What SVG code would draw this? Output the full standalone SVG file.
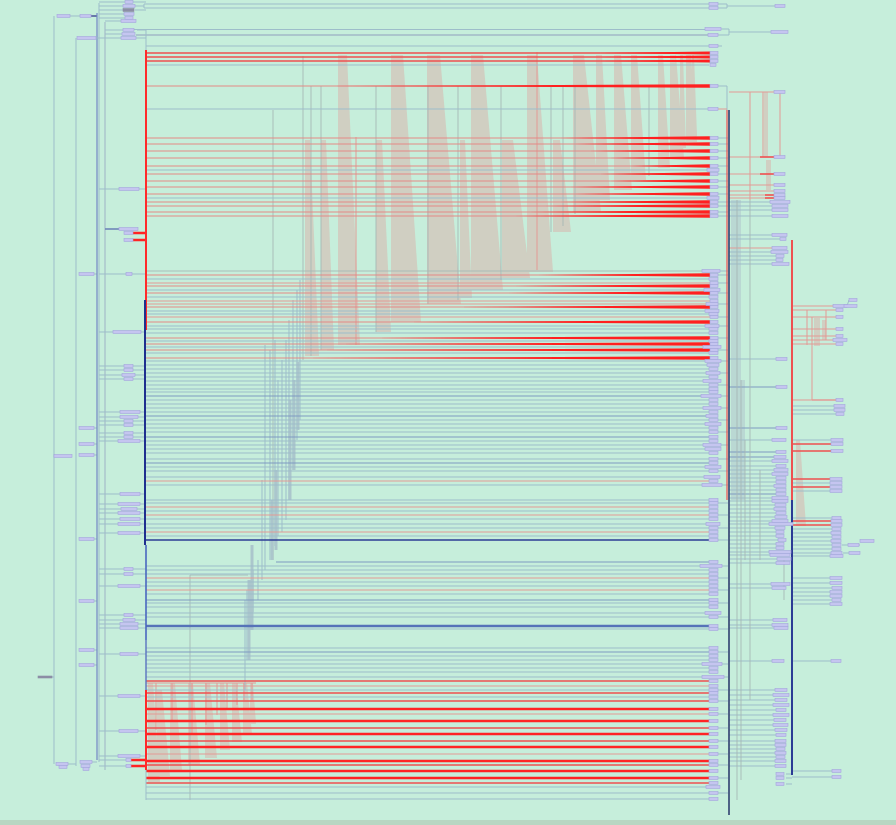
<svg xmlns="http://www.w3.org/2000/svg" width="896" height="825" viewBox="0 0 896 825">
<style>
.n{fill:#c5c5f0;stroke:#a3a6dc;stroke-width:.6}
.nd{fill:#8c8ea6;stroke:#8c8ea6;stroke-width:.6}
.b{stroke:#9dbdca;stroke-width:1;fill:none}
.g{stroke:#a6b8b5;stroke-width:.9;fill:none}
.bd{stroke:#7e99c2;stroke-width:1.2;fill:none}
.nv{stroke:#2b3b95;stroke-width:1.4;fill:none}
.bt{stroke:#5673b8;stroke-width:2.6;fill:none}
.p{stroke:#e39a95;stroke-width:1;fill:none}
.pr{stroke:#e48a86;stroke-width:1.1;fill:none}
.rm{stroke:#ee5050;stroke-width:1.3;fill:none}
.rt{stroke:#ff2424;stroke-width:2.6;fill:none}
.r{fill:#ff2020}
.w{fill:#d0cfc2}
.lb{stroke:#abc6cc;stroke-width:3;fill:none}
.lb2{stroke:#abc6cc;stroke-width:2;fill:none}
.dk{stroke:#2f3f6f;stroke-width:1.6;fill:none}
.lv{stroke:#7385c5;stroke-width:1.2;fill:none}
</style>
<rect x="0" y="0" width="896" height="825" fill="#c6eedb"/>
<rect x="0" y="820" width="896" height="5" fill="#b8d6c2"/>
<g id="connectors">
<g id="wedges">
<polygon class="w" points="305,140 310,140 319,356 305,356"/>
<polygon class="w" points="321,140 326,140 334,350 321,350"/>
<polygon class="w" points="338,55 347,55 360,345 338,345"/>
<polygon class="w" points="376,140 382,140 391,332 376,332"/>
<polygon class="w" points="391,55 403,55 421,322 391,322"/>
<polygon class="w" points="427,55 440,55 461,304 427,304"/>
<polygon class="w" points="460,140 465,140 472,298 460,298"/>
<polygon class="w" points="471,55 483,55 503,290 471,290"/>
<polygon class="w" points="502,140 513,140 530,278 502,278"/>
<polygon class="w" points="527,55 537,55 553,272 527,272"/>
<polygon class="w" points="553,140 560,140 571,232 553,232"/>
<polygon class="w" points="573,55 584,55 601,212 573,212"/>
<polygon class="w" points="596,55 602,55 610,200 596,200"/>
<polygon class="w" points="614,55 621,55 632,190 614,190"/>
<polygon class="w" points="631,55 637,55 646,180 631,180"/>
<polygon class="w" points="658,55 663,55 670,168 658,168"/>
<polygon class="w" points="670,55 676,55 684,158 670,158"/>
<polygon class="w" points="680,55 683,55 686,148 680,148"/>
<polygon class="w" points="686,55 691,55 697,142 686,142"/>
<polygon class="w" points="692,55 694,55 697,136 692,136"/>
<polygon class="w" points="148,683 153,683 160,782 148,782"/>
<polygon class="w" points="157,690 162,690 170,776 157,776"/>
<polygon class="w" points="170,683 175,683 182,770 170,770"/>
<polygon class="w" points="188,683 193,683 200,765 188,765"/>
<polygon class="w" points="205,683 210,683 217,758 205,758"/>
<polygon class="w" points="220,683 224,683 230,750 220,750"/>
<polygon class="w" points="232,683 236,683 242,742 232,742"/>
<polygon class="w" points="243,683 247,683 252,734 243,734"/>
<polygon class="w" points="250,683 253,683 256,724 250,724"/>
<polygon class="w" points="796,440 800,440 806,526 796,526"/>
<rect class="w" x="814" y="318" width="6" height="28"/>
<rect class="w" x="822" y="320" width="4" height="20"/>
<rect class="w" x="764" y="92" width="4" height="65"/>
<rect class="w" x="766" y="160" width="5" height="30"/>
<rect x="731" y="200" width="10" height="180" fill="#b2c9cd" opacity=".6"/>
<rect x="731" y="380" width="14" height="120" fill="#b2c9cd" opacity=".6"/>
</g>
<path class="g" d="M303 56V360M273 110V560M311 86V356M321 86V350M376 86V332M428 86V304M458 86V300M501 86V280M551 86V232M563 86V226M575 86V214M649 86V176M190 575V800M190 575H248"/>
<path class="p" d="M356 137V345M537 52V270M156 683V730M172 683V720M192 683V735M206 683V725M217 683V715M227 683V710M237 683V705M244 683V700M252 683V700M146 683H256"/>
<path class="b" d="M300 280V420M297 290V440M293 300V470M289 320V500M286 340V520M282 360V532M278 380V536M275 340V546M270 350V560M265 345V570M262 480V580M258 560V600M253 570V612M250 580V626M247 590V660M245 600V690"/>
<path class="lb" d="M298 362V430M294 380V470M290 400V500M276 470V550M272 500V560M252 545V630M249 580V660"/>
<path class="b" d="M135 6H144V4H709M144 6V8H709M134 29.5H705M146 46H709M146 65H709M146 109H709M146 170H709M146 198H709M146 279H709M146 290H709M146 297H709M146 311H709M146 314H709M146 326H709M146 329H709M146 333H709M146 341H709M146 347H709M146 353H709M146 361H709M146 365H709M146 369H709M146 373H709M146 377H709M146 381H709M146 385H709M146 389H709M146 392H709M146 400H709M146 404H709M146 408H709M146 412H709M146 420H709M146 424H709M146 428H709M146 432H709M146 441H709M146 445H709M146 449H709M146 453H709M146 459H709M146 467H709M146 471H709M146 477H709M146 485H709M146 500H709M146 503H709M146 511H709M146 519H709M146 524H709M146 528H709M146 536H709M146 566H709M146 570H709M146 574H709M146 582H709M146 586H709M146 594H709M146 603H709M146 607H709M146 613H709M146 617H709M146 629H709M146 648H709M146 656H709M146 660H709M146 664H709M146 668H709M146 672H709M146 677H709M146 690H709M146 697H709M146 787H709M146 793H709M146 799H709"/>
<path class="lb2" d="M136 35H708"/>
<path class="g" d="M146 271H709"/>
<path class="bd" d="M146 396H709M146 416H709M146 437H709M146 463H709M276 562H709M146 600H709M146 652H709"/>
<path class="nv" d="M146 540H709"/>
<path class="bt" d="M146 626H709"/>
<path class="pr" d="M146 86H710M146 138H710M146 144H710M146 151H710M146 158H710M146 166H710M146 174H710M146 181H710M146 187H710M146 194H710M146 202H710M146 206H710M146 212H710M146 216H710M146 275H710M146 286H710M146 293H710M146 307H710M146 322H710M146 338H710M146 344H710M146 350H710M146 358H710"/>
<path class="p" d="M146 283H710M146 301H710M146 304H710M146 317H710M146 481H710M146 507H710M146 515H710M146 532H710M146 578H710M146 590H710M146 686H710M146 714H710M146 754H710"/>
<path class="rm" d="M146 53H710M146 57H710M146 61H710M146 681H710M146 693H710M146 701H710M146 728H710M146 741H710M146 765H710M146 783H710"/>
<path class="rt" d="M146 709H710M146 721H710M146 734H710M146 747H710M146 761H710M146 771H710M146 778H710"/>
<g id="tapers">
<polygon class="r" points="600,53 710,51.4 710,54.6"/>
<polygon class="r" points="600,57 710,55.4 710,58.6"/>
<polygon class="r" points="600,61 710,59.4 710,62.6"/>
<polygon class="r" points="330,86 710,84.3 710,87.7"/>
<polygon class="r" points="560,138 710,136.3 710,139.7"/>
<polygon class="r" points="575,144 710,142.3 710,145.7"/>
<polygon class="r" points="590,151 710,149.3 710,152.7"/>
<polygon class="r" points="610,158 710,156.3 710,159.7"/>
<polygon class="r" points="630,166 710,164.3 710,167.7"/>
<polygon class="r" points="600,174 710,172.3 710,175.7"/>
<polygon class="r" points="610,181 710,179.3 710,182.7"/>
<polygon class="r" points="570,187 710,185.3 710,188.7"/>
<polygon class="r" points="575,194 710,192.3 710,195.7"/>
<polygon class="r" points="560,202 710,200.3 710,203.7"/>
<polygon class="r" points="545,206 710,204.3 710,207.7"/>
<polygon class="r" points="530,212 710,210.3 710,213.7"/>
<polygon class="r" points="515,216 710,214.3 710,217.7"/>
<polygon class="r" points="538,275 710,273.3 710,276.7"/>
<polygon class="r" points="515,286 710,284.3 710,287.7"/>
<polygon class="r" points="500,293 710,291.3 710,294.7"/>
<polygon class="r" points="458,307 710,305.3 710,308.7"/>
<polygon class="r" points="408,322 710,320.3 710,323.7"/>
<polygon class="r" points="377,338 710,336.3 710,339.7"/>
<polygon class="r" points="339,344 710,342.3 710,345.7"/>
<polygon class="r" points="320,350 710,348.3 710,351.7"/>
<polygon class="r" points="305,358 710,356.3 710,359.7"/>
</g>
<path class="b" d="M718 4H727V6H775M718 8H727V6M721 29H729V32H771M718 35H729V32M718 46H722M718 86H727V110M718 138H728M718 144H728M718 151H728M718 158H728M718 166H728M718 174H728M718 181H728M718 187H728M718 194H728M718 202H728M718 206H728M718 212H728M718 216H728M720 271H728M718 275H728M718 283H728M718 293H728M718 304H728M718 317H728M718 326H728M718 338H728M718 350H728M718 361H728M718 373H728M718 385H728M718 396H728M718 408H728M718 420H728M718 432H728M718 445H728M718 459H728M718 471H728M718 485H728M718 503H728M718 515H728M718 528H728M718 540H728M718 566H728M718 578H728M718 590H728M718 603H728M718 617H728M718 629H728M718 652H728M718 664H728M718 677H728M718 690H728M718 701H728M718 714H728M718 728H728M718 741H728M718 754H728M718 765H728M718 778H728M718 793H728"/>
<path class="p" d="M718 109H727M729 92H774M729 157H774M729 174H774M729 185H774M729 191H774M729 195H774M729 198H774M729 248H772M780 92V157M763 92V157M750 92V200"/>
<path class="rm" d="M760 157H774M760 174H774M765 195H774M765 198H774M792 444H831M792 451H831M792 479H830M792 487H830M792 521H831M792 525H831"/>
<path class="b" d="M729 202H770M729 206H772M729 210H772M729 216H772M729 235H772M729 239H780M729 252H771M729 256H776M729 260H776M729 264H772M729 359H776M729 440H772M729 461H772M729 466H776M729 470H774M729 474H772M729 478H776M729 482H776M729 486H774M729 490H776M729 498H772M729 501H772M729 505H775M729 509H774M729 513H776M729 517H775M729 521H772M729 524H769M729 528H775M729 532H776M729 536H776M729 540H778M729 544H776M729 548H776M729 552H769M729 555H770M729 559H777M729 563H776M729 584H771M729 588H772M729 620H773M729 625H772M729 628H774M729 661H772M729 690H775M729 695H773M729 700H775M729 705H773M729 710H776M729 715H773M729 720H774M729 725H773M729 730H775M729 735H776M729 741H775M729 745H775M729 749H776M729 753H775M729 757H776M729 761H775M729 766H775M786 774H792M786 778H792M786 784H792"/>
<path class="bd" d="M729 387H776M729 428H776M729 452H776M729 457H774M729 494H776"/>
<path class="g" d="M750 200V700M737 200V800M741 380V780M745 440V560M760 470V560M784 560V600"/>
<path class="p" d="M792 306H833M792 310H836M792 317H836M792 329H836M792 336H836M792 340H833M792 344H836M792 400H836M812 317V400M812 400H836M807 310V345M826 310V340"/>
<path class="b" d="M792 406H834M792 410H834M792 414H836M792 440H831M792 483H830M792 491H830M792 518H832M792 529H832M792 533H831M792 537H832M792 541H831M792 545H832M792 549H832M792 553H831M792 556H830M792 578H830M792 583H830M792 588H832M792 592H830M792 596H830M792 600H832M792 604H830M792 661H831M792 771H832M792 777H832M847 306L849 300M842 545H848M859 545H860M843 553H849M836 306H844"/>
<path class="rm" d="M727 110V500" style="stroke-width:1.2"/>
<path class="dk" d="M729 110V815"/>
<path class="rm" d="M792 240V500" style="stroke-width:2"/>
<path class="nv" d="M792 500V775" style="stroke-width:2"/>
<path class="b" d="M54 16V764M70 16H80M76 38V766M99 3V762M54 456H55M52 677H54M68 764H76M94 274H97M94 428H97M94 444H97M94 455H97M94 539H97M94 601H97M94 650H97M94 665H97M92 762H97"/>
<path d="M91 16H97" style="stroke:#6878a8;stroke-width:2"/>
<path class="lv" d="M97 13V760"/>
<path class="lb" d="M105 22V770" style="stroke-width:1.5"/>
<path class="b" d="M99 2H125M99 6H123M99 10H123M99 14H124M99 18H125M105 21H121M105 30H123M105 34H122M96 38H121M99 189H119M99 274H126M99 332H113M99 366H124M99 370H124M99 375H122M99 379H124M99 412H120M99 417H120M99 421H124M99 425H124M99 433H124M99 437H124M99 441H118M99 494H120M99 504H118M99 509H121M99 513H118M99 519H120M99 524H118M99 533H118M99 569H124M99 574H124M99 586H118M99 615H124M99 620H123M99 624H120M99 628H120M99 654H120M99 696H118M99 731H119M99 756H118M99 760H126M99 766H126M133 2H146M135 10H146M137 30H146M136 38H146M139 189H146M132 274H146M141 332H146M133 366H146M133 370H146M135 375H146M133 379H146M140 412H146M138 417H146M133 421H146M133 425H146M133 433H146M133 437H146M140 441H146M140 494H146M140 504H146M137 509H146M140 513H146M140 519H146M140 524H146M140 533H146M133 569H146M133 574H146M140 586H146M133 615H146M135 620H146M138 624H146M138 628H146M138 654H146M140 696H146M138 731H146M140 756H146"/>
<path d="M105 229H119" style="stroke:#6f86b8;stroke-width:1.6"/>
<path class="rt" d="M133 233H146M133 240H146M131 760H146M131 766H146"/>
<path class="b" d="M146 30V50M146 770V800"/>
<path d="M146 50V330" style="stroke:#ff2a2a;stroke-width:2;fill:none"/>
<path d="M145 300V545" style="stroke:#1f2f8f;stroke-width:2;fill:none"/>
<path d="M146 545V640" style="stroke:#4a66c0;stroke-width:1.6;fill:none"/>
<path d="M146 640V690" style="stroke:#5a72c0;stroke-width:1.4;fill:none"/>
<path d="M146 690V770" style="stroke:#ff2a2a;stroke-width:2;fill:none"/>
</g>
<g id="a1"><rect class="n" x="709" y="2.5" width="9" height="3"/></g>
<g id="a2"><rect class="n" x="709" y="6.5" width="9" height="3"/></g>
<g id="a3"><rect class="n" x="705" y="27.5" width="16" height="3"/></g>
<g id="a4"><rect class="n" x="708" y="33.5" width="10" height="3"/></g>
<g id="a5"><rect class="n" x="709" y="44.5" width="9" height="3"/></g>
<g id="a6"><rect class="n" x="710" y="51.5" width="8" height="3"/></g>
<g id="a7"><rect class="n" x="710" y="55.5" width="8" height="3"/></g>
<g id="a8"><rect class="n" x="710" y="59.5" width="8" height="3"/></g>
<g id="a9"><rect class="n" x="710" y="63.5" width="6" height="3"/></g>
<g id="a10"><rect class="n" x="710" y="84.5" width="8" height="3"/></g>
<g id="a11"><rect class="n" x="708" y="107.5" width="10" height="3"/></g>
<g id="a12"><rect class="n" x="710" y="136.5" width="8" height="3"/></g>
<g id="a13"><rect class="n" x="710" y="142.5" width="8" height="3"/></g>
<g id="a14"><rect class="n" x="710" y="149.5" width="8" height="3"/></g>
<g id="a15"><rect class="n" x="710" y="156.5" width="8" height="3"/></g>
<g id="a16"><rect class="n" x="710" y="164.5" width="8" height="3"/></g>
<g id="a17"><rect class="n" x="707" y="168.5" width="12" height="3"/></g>
<g id="a18"><rect class="n" x="710" y="172.5" width="8" height="3"/></g>
<g id="a19"><rect class="n" x="710" y="179.5" width="8" height="3"/></g>
<g id="a20"><rect class="n" x="710" y="185.5" width="8" height="3"/></g>
<g id="a21"><rect class="n" x="710" y="192.5" width="8" height="3"/></g>
<g id="a22"><rect class="n" x="707" y="196.5" width="12" height="3"/></g>
<g id="a23"><rect class="n" x="710" y="200.5" width="8" height="3"/></g>
<g id="a24"><rect class="n" x="710" y="204.5" width="8" height="3"/></g>
<g id="a25"><rect class="n" x="710" y="210.5" width="8" height="3"/></g>
<g id="a26"><rect class="n" x="710" y="214.5" width="8" height="3"/></g>
<g id="a27"><rect class="n" x="702" y="269.5" width="18" height="3"/></g>
<g id="a28"><rect class="n" x="710" y="273.5" width="8" height="3"/></g>
<g id="a29"><rect class="n" x="709" y="277.5" width="9" height="3"/></g>
<g id="a30"><rect class="n" x="710" y="281.5" width="8" height="3"/></g>
<g id="a31"><rect class="n" x="710" y="284.5" width="8" height="3"/></g>
<g id="a32"><rect class="n" x="704" y="288.5" width="16" height="3"/></g>
<g id="a33"><rect class="n" x="710" y="291.5" width="8" height="3"/></g>
<g id="a34"><rect class="n" x="709" y="295.5" width="9" height="3"/></g>
<g id="a35"><rect class="n" x="710" y="299.5" width="8" height="3"/></g>
<g id="a36"><rect class="n" x="706" y="302.5" width="12" height="3"/></g>
<g id="a37"><rect class="n" x="710" y="305.5" width="8" height="3"/></g>
<g id="a38"><rect class="n" x="705" y="309.5" width="14" height="3"/></g>
<g id="a39"><rect class="n" x="709" y="312.5" width="9" height="3"/></g>
<g id="a40"><rect class="n" x="710" y="315.5" width="8" height="3"/></g>
<g id="a41"><rect class="n" x="710" y="320.5" width="8" height="3"/></g>
<g id="a42"><rect class="n" x="705" y="324.5" width="14" height="3"/></g>
<g id="a43"><rect class="n" x="709" y="327.5" width="9" height="3"/></g>
<g id="a44"><rect class="n" x="709" y="331.5" width="9" height="3"/></g>
<g id="a45"><rect class="n" x="710" y="336.5" width="8" height="3"/></g>
<g id="a46"><rect class="n" x="709" y="339.5" width="9" height="3"/></g>
<g id="a47"><rect class="n" x="710" y="342.5" width="8" height="3"/></g>
<g id="a48"><rect class="n" x="703" y="345.5" width="18" height="3"/></g>
<g id="a49"><rect class="n" x="710" y="348.5" width="8" height="3"/></g>
<g id="a50"><rect class="n" x="709" y="351.5" width="9" height="3"/></g>
<g id="a51"><rect class="n" x="710" y="356.5" width="8" height="3"/></g>
<g id="a52"><rect class="n" x="705" y="359.5" width="16" height="3"/></g>
<g id="a53"><rect class="n" x="707" y="363.5" width="12" height="3"/></g>
<g id="a54"><rect class="n" x="709" y="367.5" width="9" height="3"/></g>
<g id="a55"><rect class="n" x="706" y="371.5" width="14" height="3"/></g>
<g id="a56"><rect class="n" x="709" y="375.5" width="9" height="3"/></g>
<g id="a57"><rect class="n" x="703" y="379.5" width="18" height="3"/></g>
<g id="a58"><rect class="n" x="709" y="383.5" width="9" height="3"/></g>
<g id="a59"><rect class="n" x="709" y="387.5" width="9" height="3"/></g>
<g id="a60"><rect class="n" x="709" y="390.5" width="9" height="3"/></g>
<g id="a61"><rect class="n" x="701" y="394.5" width="20" height="3"/></g>
<g id="a62"><rect class="n" x="709" y="398.5" width="9" height="3"/></g>
<g id="a63"><rect class="n" x="709" y="402.5" width="9" height="3"/></g>
<g id="a64"><rect class="n" x="703" y="406.5" width="18" height="3"/></g>
<g id="a65"><rect class="n" x="709" y="410.5" width="9" height="3"/></g>
<g id="a66"><rect class="n" x="706" y="414.5" width="12" height="3"/></g>
<g id="a67"><rect class="n" x="709" y="418.5" width="9" height="3"/></g>
<g id="a68"><rect class="n" x="705" y="422.5" width="16" height="3"/></g>
<g id="a69"><rect class="n" x="709" y="426.5" width="9" height="3"/></g>
<g id="a70"><rect class="n" x="709" y="430.5" width="9" height="3"/></g>
<g id="a71"><rect class="n" x="709" y="435.5" width="9" height="3"/></g>
<g id="a72"><rect class="n" x="709" y="439.5" width="9" height="3"/></g>
<g id="a73"><rect class="n" x="703" y="443.5" width="18" height="3"/></g>
<g id="a74"><rect class="n" x="705" y="447.5" width="16" height="3"/></g>
<g id="a75"><rect class="n" x="709" y="451.5" width="9" height="3"/></g>
<g id="a76"><rect class="n" x="709" y="457.5" width="9" height="3"/></g>
<g id="a77"><rect class="n" x="709" y="461.5" width="9" height="3"/></g>
<g id="a78"><rect class="n" x="705" y="465.5" width="16" height="3"/></g>
<g id="a79"><rect class="n" x="709" y="469.5" width="9" height="3"/></g>
<g id="a80"><rect class="n" x="704" y="475.5" width="16" height="3"/></g>
<g id="a81"><rect class="n" x="709" y="479.5" width="9" height="3"/></g>
<g id="a82"><rect class="n" x="702" y="483.5" width="20" height="3"/></g>
<g id="a83"><rect class="n" x="709" y="498.5" width="9" height="3"/></g>
<g id="a84"><rect class="n" x="709" y="501.5" width="9" height="3"/></g>
<g id="a85"><rect class="n" x="709" y="505.5" width="9" height="3"/></g>
<g id="a86"><rect class="n" x="709" y="509.5" width="9" height="3"/></g>
<g id="a87"><rect class="n" x="709" y="513.5" width="9" height="3"/></g>
<g id="a88"><rect class="n" x="709" y="517.5" width="9" height="3"/></g>
<g id="a89"><rect class="n" x="706" y="522.5" width="14" height="3"/></g>
<g id="a90"><rect class="n" x="709" y="526.5" width="9" height="3"/></g>
<g id="a91"><rect class="n" x="709" y="530.5" width="9" height="3"/></g>
<g id="a92"><rect class="n" x="709" y="534.5" width="9" height="3"/></g>
<g id="a93"><rect class="n" x="709" y="538.5" width="9" height="3"/></g>
<g id="a94"><rect class="n" x="709" y="560.5" width="9" height="3"/></g>
<g id="a95"><rect class="n" x="700" y="564.5" width="22" height="3"/></g>
<g id="a96"><rect class="n" x="709" y="568.5" width="9" height="3"/></g>
<g id="a97"><rect class="n" x="709" y="572.5" width="9" height="3"/></g>
<g id="a98"><rect class="n" x="709" y="576.5" width="9" height="3"/></g>
<g id="a99"><rect class="n" x="709" y="580.5" width="9" height="3"/></g>
<g id="a100"><rect class="n" x="709" y="584.5" width="9" height="3"/></g>
<g id="a101"><rect class="n" x="709" y="588.5" width="9" height="3"/></g>
<g id="a102"><rect class="n" x="709" y="592.5" width="9" height="3"/></g>
<g id="a103"><rect class="n" x="709" y="598.5" width="9" height="3"/></g>
<g id="a104"><rect class="n" x="709" y="601.5" width="9" height="3"/></g>
<g id="a105"><rect class="n" x="709" y="605.5" width="9" height="3"/></g>
<g id="a106"><rect class="n" x="705" y="611.5" width="16" height="3"/></g>
<g id="a107"><rect class="n" x="709" y="615.5" width="9" height="3"/></g>
<g id="a108"><rect class="n" x="709" y="624.5" width="9" height="3"/></g>
<g id="a109"><rect class="n" x="709" y="627.5" width="9" height="3"/></g>
<g id="a110"><rect class="n" x="709" y="646.5" width="9" height="3"/></g>
<g id="a111"><rect class="n" x="709" y="650.5" width="9" height="3"/></g>
<g id="a112"><rect class="n" x="709" y="654.5" width="9" height="3"/></g>
<g id="a113"><rect class="n" x="709" y="658.5" width="9" height="3"/></g>
<g id="a114"><rect class="n" x="702" y="662.5" width="20" height="3"/></g>
<g id="a115"><rect class="n" x="709" y="666.5" width="9" height="3"/></g>
<g id="a116"><rect class="n" x="709" y="670.5" width="9" height="3"/></g>
<g id="a117"><rect class="n" x="702" y="675.5" width="22" height="3"/></g>
<g id="a118"><rect class="n" x="709" y="679.5" width="9" height="3"/></g>
<g id="a119"><rect class="n" x="709" y="684.5" width="9" height="3"/></g>
<g id="a120"><rect class="n" x="709" y="688.5" width="9" height="3"/></g>
<g id="a121"><rect class="n" x="709" y="691.5" width="9" height="3"/></g>
<g id="a122"><rect class="n" x="709" y="695.5" width="9" height="3"/></g>
<g id="a123"><rect class="n" x="709" y="699.5" width="9" height="3"/></g>
<g id="a124"><rect class="n" x="709" y="707.5" width="9" height="3"/></g>
<g id="a125"><rect class="n" x="709" y="712.5" width="9" height="3"/></g>
<g id="a126"><rect class="n" x="709" y="719.5" width="9" height="3"/></g>
<g id="a127"><rect class="n" x="709" y="726.5" width="9" height="3"/></g>
<g id="a128"><rect class="n" x="709" y="732.5" width="9" height="3"/></g>
<g id="a129"><rect class="n" x="709" y="739.5" width="9" height="3"/></g>
<g id="a130"><rect class="n" x="709" y="745.5" width="9" height="3"/></g>
<g id="a131"><rect class="n" x="709" y="752.5" width="9" height="3"/></g>
<g id="a132"><rect class="n" x="709" y="759.5" width="9" height="3"/></g>
<g id="a133"><rect class="n" x="709" y="763.5" width="9" height="3"/></g>
<g id="a134"><rect class="n" x="709" y="769.5" width="9" height="3"/></g>
<g id="a135"><rect class="n" x="709" y="776.5" width="9" height="3"/></g>
<g id="a136"><rect class="n" x="709" y="781.5" width="9" height="3"/></g>
<g id="a137"><rect class="n" x="706" y="785.5" width="14" height="3"/></g>
<g id="a138"><rect class="n" x="709" y="791.5" width="9" height="3"/></g>
<g id="a139"><rect class="n" x="709" y="797.5" width="9" height="3"/></g>
<g id="b1"><rect class="n" x="125" y="0.5" width="8" height="3"/></g>
<g id="b2"><rect class="n" x="123" y="4.5" width="12" height="3"/></g>
<g id="b3"><rect class="nd" x="123" y="8.5" width="11" height="3"/></g>
<g id="b4"><rect class="n" x="124" y="12.5" width="10" height="3"/></g>
<g id="b5"><rect class="n" x="125" y="16.5" width="8" height="3"/></g>
<g id="b6"><rect class="n" x="121" y="19.5" width="15" height="3"/></g>
<g id="b7"><rect class="n" x="123" y="28.5" width="11" height="3"/></g>
<g id="b8"><rect class="n" x="122" y="32.5" width="13" height="3"/></g>
<g id="b9"><rect class="n" x="121" y="36.5" width="15" height="3"/></g>
<g id="b10"><rect class="n" x="119" y="187.5" width="20" height="3"/></g>
<g id="b11"><rect class="n" x="119" y="227.5" width="19" height="3"/></g>
<g id="b12"><rect class="n" x="124" y="231.5" width="9" height="3"/></g>
<g id="b13"><rect class="n" x="124" y="238.5" width="9" height="3"/></g>
<g id="b14"><rect class="n" x="126" y="272.5" width="6" height="3"/></g>
<g id="b15"><rect class="n" x="113" y="330.5" width="28" height="3"/></g>
<g id="b16"><rect class="n" x="124" y="364.5" width="9" height="3"/></g>
<g id="b17"><rect class="n" x="124" y="368.5" width="9" height="3"/></g>
<g id="b18"><rect class="n" x="122" y="373.5" width="13" height="3"/></g>
<g id="b19"><rect class="n" x="124" y="377.5" width="9" height="3"/></g>
<g id="b20"><rect class="n" x="120" y="410.5" width="20" height="3"/></g>
<g id="b21"><rect class="n" x="120" y="415.5" width="18" height="3"/></g>
<g id="b22"><rect class="n" x="124" y="419.5" width="9" height="3"/></g>
<g id="b23"><rect class="n" x="124" y="423.5" width="9" height="3"/></g>
<g id="b24"><rect class="n" x="124" y="431.5" width="9" height="3"/></g>
<g id="b25"><rect class="n" x="124" y="435.5" width="9" height="3"/></g>
<g id="b26"><rect class="n" x="118" y="439.5" width="22" height="3"/></g>
<g id="b27"><rect class="n" x="120" y="492.5" width="20" height="3"/></g>
<g id="b28"><rect class="n" x="118" y="502.5" width="22" height="3"/></g>
<g id="b29"><rect class="n" x="121" y="507.5" width="16" height="3"/></g>
<g id="b30"><rect class="n" x="118" y="511.5" width="22" height="3"/></g>
<g id="b31"><rect class="n" x="120" y="517.5" width="20" height="3"/></g>
<g id="b32"><rect class="n" x="118" y="522.5" width="22" height="3"/></g>
<g id="b33"><rect class="n" x="118" y="531.5" width="22" height="3"/></g>
<g id="b34"><rect class="n" x="124" y="567.5" width="9" height="3"/></g>
<g id="b35"><rect class="n" x="124" y="572.5" width="9" height="3"/></g>
<g id="b36"><rect class="n" x="118" y="584.5" width="22" height="3"/></g>
<g id="b37"><rect class="n" x="124" y="613.5" width="9" height="3"/></g>
<g id="b38"><rect class="n" x="123" y="618.5" width="12" height="3"/></g>
<g id="b39"><rect class="n" x="120" y="622.5" width="18" height="3"/></g>
<g id="b40"><rect class="n" x="120" y="626.5" width="18" height="3"/></g>
<g id="b41"><rect class="n" x="120" y="652.5" width="18" height="3"/></g>
<g id="b42"><rect class="n" x="118" y="694.5" width="22" height="3"/></g>
<g id="b43"><rect class="n" x="119" y="729.5" width="19" height="3"/></g>
<g id="b44"><rect class="n" x="118" y="754.5" width="22" height="3"/></g>
<g id="b45"><rect class="n" x="126" y="758.5" width="5" height="3"/></g>
<g id="b46"><rect class="n" x="126" y="764.5" width="5" height="3"/></g>
<g id="l1"><rect class="n" x="57" y="14.5" width="13" height="3"/></g>
<g id="l2"><rect class="n" x="80" y="14.5" width="11" height="3"/></g>
<g id="l3"><rect class="n" x="54" y="454.5" width="18" height="3"/></g>
<g id="l4"><rect class="n" x="56" y="762.5" width="12" height="3"/></g>
<g id="l5"><rect class="n" x="59" y="765.5" width="8" height="3"/></g>
<g id="l6"><rect class="n" x="77" y="36.5" width="19" height="3"/></g>
<g id="l7"><rect class="n" x="79" y="272.5" width="15" height="3"/></g>
<g id="l8"><rect class="n" x="79" y="426.5" width="15" height="3"/></g>
<g id="l9"><rect class="n" x="79" y="442.5" width="15" height="3"/></g>
<g id="l10"><rect class="n" x="79" y="453.5" width="15" height="3"/></g>
<g id="l11"><rect class="n" x="79" y="537.5" width="15" height="3"/></g>
<g id="l12"><rect class="n" x="79" y="599.5" width="15" height="3"/></g>
<g id="l13"><rect class="n" x="79" y="648.5" width="15" height="3"/></g>
<g id="l14"><rect class="n" x="79" y="663.5" width="15" height="3"/></g>
<g id="l15"><rect class="n" x="80" y="760.5" width="12" height="3"/></g>
<g id="l16"><rect class="n" x="81" y="764.5" width="9" height="3"/></g>
<g id="l17"><rect class="n" x="83" y="767.5" width="6" height="3"/></g>
<g id="l18"><rect class="nd" x="38" y="676" width="14" height="2"/></g>
<g id="c1"><rect class="n" x="775" y="4.5" width="10" height="3"/></g>
<g id="c2"><rect class="n" x="771" y="30.5" width="17" height="3"/></g>
<g id="c3"><rect class="n" x="774" y="90.5" width="11" height="3"/></g>
<g id="c4"><rect class="n" x="774" y="155.5" width="11" height="3"/></g>
<g id="c5"><rect class="n" x="774" y="172.5" width="11" height="3"/></g>
<g id="c6"><rect class="n" x="774" y="183.5" width="11" height="3"/></g>
<g id="c7"><rect class="n" x="774" y="189.5" width="11" height="3"/></g>
<g id="c8"><rect class="n" x="774" y="193.5" width="11" height="3"/></g>
<g id="c9"><rect class="n" x="774" y="196.5" width="11" height="3"/></g>
<g id="c10"><rect class="n" x="770" y="200.5" width="20" height="3"/></g>
<g id="c11"><rect class="n" x="772" y="204.5" width="16" height="3"/></g>
<g id="c12"><rect class="n" x="772" y="208.5" width="16" height="3"/></g>
<g id="c13"><rect class="n" x="772" y="214.5" width="16" height="3"/></g>
<g id="c14"><rect class="n" x="772" y="233.5" width="15" height="3"/></g>
<g id="c15"><rect class="n" x="780" y="237.5" width="6" height="3"/></g>
<g id="c16"><rect class="n" x="772" y="246.5" width="15" height="3"/></g>
<g id="c17"><rect class="n" x="771" y="250.5" width="17" height="3"/></g>
<g id="c18"><rect class="n" x="776" y="254.5" width="8" height="3"/></g>
<g id="c19"><rect class="n" x="776" y="258.5" width="7" height="3"/></g>
<g id="c20"><rect class="n" x="772" y="262.5" width="17" height="3"/></g>
<g id="c21"><rect class="n" x="776" y="357.5" width="11" height="3"/></g>
<g id="c22"><rect class="n" x="776" y="385.5" width="11" height="3"/></g>
<g id="c23"><rect class="n" x="776" y="426.5" width="11" height="3"/></g>
<g id="c24"><rect class="n" x="772" y="438.5" width="14" height="3"/></g>
<g id="c25"><rect class="n" x="776" y="450.5" width="10" height="3"/></g>
<g id="c26"><rect class="n" x="774" y="455.5" width="12" height="3"/></g>
<g id="c27"><rect class="n" x="772" y="459.5" width="16" height="3"/></g>
<g id="c28"><rect class="n" x="776" y="464.5" width="10" height="3"/></g>
<g id="c29"><rect class="n" x="774" y="468.5" width="14" height="3"/></g>
<g id="c30"><rect class="n" x="772" y="472.5" width="16" height="3"/></g>
<g id="c31"><rect class="n" x="776" y="476.5" width="10" height="3"/></g>
<g id="c32"><rect class="n" x="776" y="480.5" width="10" height="3"/></g>
<g id="c33"><rect class="n" x="774" y="484.5" width="12" height="3"/></g>
<g id="c34"><rect class="n" x="776" y="488.5" width="10" height="3"/></g>
<g id="c35"><rect class="n" x="776" y="492.5" width="10" height="3"/></g>
<g id="c36"><rect class="n" x="772" y="496.5" width="16" height="3"/></g>
<g id="c37"><rect class="n" x="772" y="499.5" width="16" height="3"/></g>
<g id="c38"><rect class="n" x="775" y="503.5" width="11" height="3"/></g>
<g id="c39"><rect class="n" x="774" y="507.5" width="12" height="3"/></g>
<g id="c40"><rect class="n" x="776" y="511.5" width="10" height="3"/></g>
<g id="c41"><rect class="n" x="775" y="515.5" width="12" height="3"/></g>
<g id="c42"><rect class="n" x="772" y="519.5" width="16" height="3"/></g>
<g id="c43"><rect class="n" x="769" y="522.5" width="24" height="3"/></g>
<g id="c44"><rect class="n" x="775" y="526.5" width="10" height="3"/></g>
<g id="c45"><rect class="n" x="776" y="530.5" width="8" height="3"/></g>
<g id="c46"><rect class="n" x="776" y="534.5" width="8" height="3"/></g>
<g id="c47"><rect class="n" x="778" y="538.5" width="8" height="3"/></g>
<g id="c48"><rect class="n" x="776" y="542.5" width="8" height="3"/></g>
<g id="c49"><rect class="n" x="776" y="546.5" width="8" height="3"/></g>
<g id="c50"><rect class="n" x="769" y="550.5" width="22" height="3"/></g>
<g id="c51"><rect class="n" x="770" y="553.5" width="20" height="3"/></g>
<g id="c52"><rect class="n" x="777" y="557.5" width="14" height="3"/></g>
<g id="c53"><rect class="n" x="776" y="561.5" width="14" height="3"/></g>
<g id="c54"><rect class="n" x="771" y="582.5" width="19" height="3"/></g>
<g id="c55"><rect class="n" x="772" y="586.5" width="14" height="3"/></g>
<g id="c56"><rect class="n" x="773" y="618.5" width="14" height="3"/></g>
<g id="c57"><rect class="n" x="772" y="623.5" width="16" height="3"/></g>
<g id="c58"><rect class="n" x="774" y="626.5" width="14" height="3"/></g>
<g id="c59"><rect class="n" x="772" y="659.5" width="12" height="3"/></g>
<g id="c60"><rect class="n" x="775" y="688.5" width="12" height="3"/></g>
<g id="c61"><rect class="n" x="773" y="693.5" width="16" height="3"/></g>
<g id="c62"><rect class="n" x="775" y="698.5" width="12" height="3"/></g>
<g id="c63"><rect class="n" x="773" y="703.5" width="16" height="3"/></g>
<g id="c64"><rect class="n" x="776" y="708.5" width="10" height="3"/></g>
<g id="c65"><rect class="n" x="773" y="713.5" width="16" height="3"/></g>
<g id="c66"><rect class="n" x="774" y="718.5" width="12" height="3"/></g>
<g id="c67"><rect class="n" x="773" y="723.5" width="15" height="3"/></g>
<g id="c68"><rect class="n" x="775" y="728.5" width="12" height="3"/></g>
<g id="c69"><rect class="n" x="776" y="733.5" width="10" height="3"/></g>
<g id="c70"><rect class="n" x="775" y="739.5" width="11" height="3"/></g>
<g id="c71"><rect class="n" x="775" y="743.5" width="11" height="3"/></g>
<g id="c72"><rect class="n" x="776" y="747.5" width="9" height="3"/></g>
<g id="c73"><rect class="n" x="775" y="751.5" width="11" height="3"/></g>
<g id="c74"><rect class="n" x="776" y="755.5" width="9" height="3"/></g>
<g id="c75"><rect class="n" x="775" y="759.5" width="11" height="3"/></g>
<g id="c76"><rect class="n" x="775" y="764.5" width="11" height="3"/></g>
<g id="c77"><rect class="n" x="776" y="772.5" width="8" height="3"/></g>
<g id="c78"><rect class="n" x="776" y="776.5" width="8" height="3"/></g>
<g id="c79"><rect class="n" x="776" y="782.5" width="8" height="3"/></g>
<g id="f1"><rect class="n" x="833" y="304.5" width="14" height="3"/></g>
<g id="f2"><rect class="n" x="836" y="308.5" width="7" height="3"/></g>
<g id="f3"><rect class="n" x="836" y="315.5" width="7" height="3"/></g>
<g id="f4"><rect class="n" x="836" y="327.5" width="7" height="3"/></g>
<g id="f5"><rect class="n" x="836" y="334.5" width="7" height="3"/></g>
<g id="f6"><rect class="n" x="833" y="338.5" width="14" height="3"/></g>
<g id="f7"><rect class="n" x="836" y="342.5" width="7" height="3"/></g>
<g id="f8"><rect class="n" x="836" y="398.5" width="7" height="3"/></g>
<g id="f9"><rect class="n" x="834" y="404.5" width="11" height="3"/></g>
<g id="f10"><rect class="n" x="834" y="408.5" width="11" height="3"/></g>
<g id="f11"><rect class="n" x="836" y="412.5" width="8" height="3"/></g>
<g id="f12"><rect class="n" x="831" y="438.5" width="12" height="3"/></g>
<g id="f13"><rect class="n" x="831" y="442.5" width="12" height="3"/></g>
<g id="f14"><rect class="n" x="831" y="449.5" width="12" height="3"/></g>
<g id="f15"><rect class="n" x="830" y="477.5" width="12" height="3"/></g>
<g id="f16"><rect class="n" x="830" y="481.5" width="12" height="3"/></g>
<g id="f17"><rect class="n" x="830" y="485.5" width="12" height="3"/></g>
<g id="f18"><rect class="n" x="830" y="489.5" width="12" height="3"/></g>
<g id="f19"><rect class="n" x="832" y="516.5" width="9" height="3"/></g>
<g id="f20"><rect class="n" x="831" y="519.5" width="11" height="3"/></g>
<g id="f21"><rect class="n" x="831" y="523.5" width="11" height="3"/></g>
<g id="f22"><rect class="n" x="832" y="527.5" width="9" height="3"/></g>
<g id="f23"><rect class="n" x="831" y="531.5" width="10" height="3"/></g>
<g id="f24"><rect class="n" x="832" y="535.5" width="9" height="3"/></g>
<g id="f25"><rect class="n" x="831" y="539.5" width="10" height="3"/></g>
<g id="f26"><rect class="n" x="832" y="543.5" width="9" height="3"/></g>
<g id="f27"><rect class="n" x="832" y="547.5" width="9" height="3"/></g>
<g id="f28"><rect class="n" x="831" y="551.5" width="11" height="3"/></g>
<g id="f29"><rect class="n" x="830" y="554.5" width="13" height="3"/></g>
<g id="f30"><rect class="n" x="830" y="576.5" width="12" height="3"/></g>
<g id="f31"><rect class="n" x="830" y="581.5" width="12" height="3"/></g>
<g id="f32"><rect class="n" x="832" y="586.5" width="10" height="3"/></g>
<g id="f33"><rect class="n" x="830" y="590.5" width="12" height="3"/></g>
<g id="f34"><rect class="n" x="830" y="594.5" width="12" height="3"/></g>
<g id="f35"><rect class="n" x="832" y="598.5" width="9" height="3"/></g>
<g id="f36"><rect class="n" x="830" y="602.5" width="12" height="3"/></g>
<g id="f37"><rect class="n" x="831" y="659.5" width="10" height="3"/></g>
<g id="f38"><rect class="n" x="832" y="769.5" width="9" height="3"/></g>
<g id="f39"><rect class="n" x="832" y="775.5" width="9" height="3"/></g>
<g id="f40"><rect class="n" x="849" y="298.5" width="8" height="3"/></g>
<g id="f41"><rect class="n" x="844" y="304.5" width="13" height="3"/></g>
<g id="f42"><rect class="n" x="848" y="543.5" width="11" height="3"/></g>
<g id="f43"><rect class="n" x="860" y="539.5" width="14" height="3"/></g>
<g id="f44"><rect class="n" x="849" y="551.5" width="11" height="3"/></g>
</svg>
